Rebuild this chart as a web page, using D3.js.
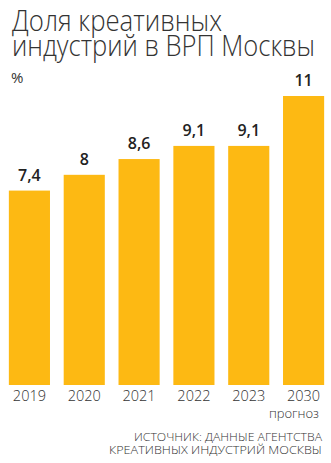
<!DOCTYPE html>
<html>
<head>
<meta charset="utf-8">
<script src="https://cdn.jsdelivr.net/npm/d3@7/dist/d3.min.js"></script>
<style>
  html, body { margin: 0; padding: 0; background: #fff; }
  svg { display: block; }
</style>
</head>
<body>
<script>
// Share of creative industries in Moscow GRP, %
const years = ["2019", "2020", "2021", "2022", "2023", "2030"];
const values = [7.4, 8, 8.6, 9.1, 9.1, 11];
const valueLabels = ["7,4", "8", "8,6", "9,1", "9,1", "11"];
const titleLines = ["Доля креативных", "индустрий в ВРП Москвы"];
const unitLabel = "%";
const forecastNote = "прогноз";
const sourceLines = ["ИСТОЧНИК: ДАННЫЕ АГЕНТСТВА", "КРЕАТИВНЫХ ИНДУСТРИЙ МОСКВЫ"];

const W = 331, H = 463;
const barColor = "#fdb913";
const textColor = "#333333";
const font = "'Open Sans', 'Noto Sans', sans-serif";

const svg = d3.select("body").append("svg")
  .attr("width", W).attr("height", H);

// Title: two light lines, fitted to their set widths
const titleWidths = [210, 303];
svg.append("g").attr("fill", textColor)
  .style("font-family", font).style("font-weight", 300).style("font-size", "29px")
  .selectAll("text").data(titleLines).join("text")
  .attr("x", 12)
  .attr("y", (d, i) => 31 + i * 25)
  .attr("textLength", (d, i) => titleWidths[i])
  .attr("lengthAdjust", "spacingAndGlyphs")
  .text(d => d);

svg.append("text")
  .attr("x", 11).attr("y", 83)
  .attr("fill", textColor)
  .style("font-family", font).style("font-size", "15px").style("font-weight", 400)
  .text(unitLabel);

// Scales
const x = d3.scaleBand().domain(years).range([2, 331])
  .paddingInner(0.25).paddingOuter(0.125);
const y = d3.scaleLinear().domain([0, 11]).range([385, 96]);

// Bars
svg.append("g").selectAll("rect").data(values).join("rect")
  .attr("x", (d, i) => x(years[i]))
  .attr("y", d => y(d))
  .attr("width", x.bandwidth())
  .attr("height", d => y(0) - y(d))
  .attr("fill", barColor);

// Value labels above bars
svg.append("g").selectAll("text").data(values).join("text")
  .attr("x", (d, i) => x(years[i]) + x.bandwidth() / 2)
  .attr("y", d => y(d) - 10)
  .attr("text-anchor", "middle")
  .attr("fill", "#222")
  .style("font-family", font).style("font-size", "16px").style("font-weight", 600)
  .text((d, i) => valueLabels[i]);

// Year axis (labels only)
const axis = svg.append("g")
  .attr("transform", `translate(0,${y(0)})`)
  .call(d3.axisBottom(x).tickSize(0).tickPadding(6));
axis.select(".domain").remove();
axis.selectAll("text")
  .attr("fill", textColor)
  .style("font-family", font).style("font-size", "14.5px").style("font-weight", 300);

svg.append("text")
  .attr("x", 319).attr("y", 418)
  .attr("text-anchor", "end")
  .attr("fill", textColor)
  .style("font-family", font).style("font-size", "13px").style("font-weight", 300)
  .text(forecastNote);

// Source note
const sourceWidths = [188, 213];
svg.append("g").selectAll("text").data(sourceLines).join("text")
  .attr("x", 322)
  .attr("y", (d, i) => 441 + i * 13)
  .attr("text-anchor", "end")
  .attr("fill", textColor)
  .attr("textLength", (d, i) => sourceWidths[i])
  .attr("lengthAdjust", "spacingAndGlyphs")
  .style("font-family", font).style("font-size", "11.5px").style("font-weight", 300)
  .text(d => d);
</script>
</body>
</html>
